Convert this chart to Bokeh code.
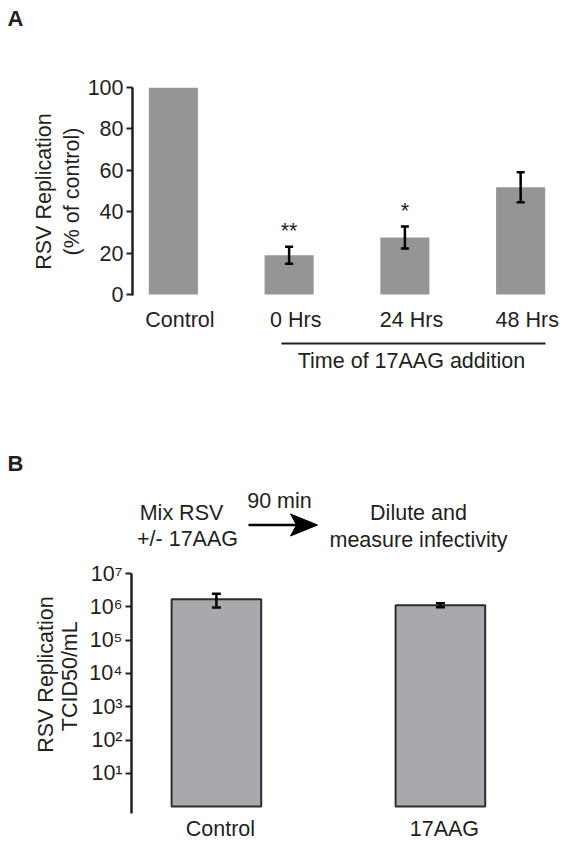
import numpy as np
from bokeh.plotting import figure
from bokeh.models import (ColumnDataSource, Range1d, FixedTicker, LinearAxis,
                          Whisker, TeeHead)
from bokeh.layouts import column, row
from bokeh.embed import file_html
from bokeh.resources import INLINE
from bokeh.core.properties import value

# ---------------- data: panel A ----------------
a_categories = ["Control", "0 Hrs", "24 Hrs", "48 Hrs"]
a_values = [100.0, 18.9, 27.5, 51.8]
a_errors = [0.0, 4.1, 5.3, 7.2]
a_significance = ["", "**", "*", ""]
a_yticks = [0, 20, 40, 60, 80, 100]
a_group_label = "Time of 17AAG addition"
a_group_members = [1, 2, 3]          # indices of the categories under the bracket
a_ylabel = ["RSV Replication", "(% of control)"]

# ---------------- data: panel B ----------------
b_categories = ["Control", "17AAG"]
b_values = [1.7e6, 1.12e6]
b_errors = [0.75e6, 0.15e6]
b_yticks = [1e1, 1e2, 1e3, 1e4, 1e5, 1e6, 1e7]
b_ytick_labels = ["10\u00b9", "10\u00b2", "10\u00b3", "10\u2074", "10\u2075", "10\u2076", "10\u2077"]
b_ylabel = ["RSV Replication", "TCID50/mL"]
b_step_before = ["Mix RSV", "+/- 17AAG"]
b_step_time = "90 min"
b_step_after = ["Dilute and", "measure infectivity"]

FONT = "Liberation Sans"
TXT = "#231f20"
FS = "21.5px"
W = 566
TITLE_W = 86
BASE_SHIFT = 7.5               # text glyphs draw their baseline this far below the anchor

# ---------------- layout geometry (page pixels) ----------------
HA_H = 40                      # header with panel letter A
PA_H = 400
PA_TOP = HA_H
A_LEFT, A_TOP, A_BOTTOM = 132, 87, 295
A_XPX = 115.76
A_X0 = -0.41
A_XR = (A_X0, A_X0 + (W - A_LEFT) / A_XPX)
A_YR = (-0.5, 100.0)

HB_TOP = PA_TOP + PA_H         # header with panel letter B and protocol
HB_H = 120
PB_TOP = HB_TOP + HB_H
PB_H = 845 - PB_TOP
B_LEFT, B_TOP, B_BOTTOM = 131, 573, 813
B_XPX = 224.0
B_X0 = -0.397
B_XR = (B_X0, B_X0 + (W - B_LEFT) / B_XPX)
B_DEC = 33.30
B_YR = (10 ** (7 - (B_BOTTOM - B_TOP) / B_DEC), 1e7)


def blank(width, height):
    p = figure(width=width, height=height, output_backend="svg",
               toolbar_location=None, x_axis_location=None, y_axis_location=None,
               x_range=Range1d(0, width), y_range=Range1d(height, 0),
               min_border=0)
    p.outline_line_color = None
    p.grid.visible = False
    return p


def txt(p, x, y, s, vertical=False, align="center", bold=False, size=FS):
    if vertical:
        x, angle = x - BASE_SHIFT, np.pi / 2
    else:
        y, angle = y - BASE_SHIFT, 0.0
    p.text(x=[x], y=[y], text=[s], angle=angle, text_align=align,
           text_baseline="alphabetic", text_font=value(FONT), text_font_size=size,
           text_color=TXT, text_font_style="bold" if bold else "normal")


def style_common(p):
    p.outline_line_color = None
    p.xgrid.grid_line_color = None
    p.ygrid.grid_line_color = None
    for ax in p.xaxis + p.yaxis:
        ax.major_label_text_font = FONT
        ax.major_label_text_font_size = FS
        ax.major_label_text_color = TXT
        ax.minor_tick_line_color = None
        ax.minor_tick_out = 0
        ax.minor_tick_in = 0
    for ax in p.yaxis:
        ax.axis_line_width = 2.5
        ax.axis_line_color = TXT
        ax.major_tick_line_width = 2
        ax.major_tick_line_color = TXT
        ax.major_tick_out = 6
        ax.major_tick_in = 0
        ax.major_label_standoff = 3
    for ax in p.xaxis:
        ax.axis_line_color = None
        ax.major_tick_line_color = None
        ax.major_tick_out = 0
        ax.major_tick_in = 0


def axis_title_style(ax, standoff):
    ax.axis_label_text_font = FONT
    ax.axis_label_text_font_size = FS
    ax.axis_label_text_color = TXT
    ax.axis_label_text_font_style = "normal"
    ax.axis_label_standoff = standoff


# ================= header A =================
ha = blank(W, HA_H)
txt(ha, 7, 25, "A", align="left", bold=True, size="22px")

# ================= Panel A =================
na = len(a_categories)
a_idx = np.arange(na)
a_shift = -0.057
a_src = ColumnDataSource(dict(
    x=a_idx + a_shift,
    top=a_values,
    upper=[v + e for v, e in zip(a_values, a_errors)],
    sig=a_significance,
))

pa = figure(width=W, height=PA_H, output_backend="svg", toolbar_location=None,
            x_range=Range1d(*A_XR), y_range=Range1d(*A_YR),
            min_border_left=A_LEFT, min_border_right=0,
            min_border_top=A_TOP - PA_TOP,
            min_border_bottom=PA_TOP + PA_H - A_BOTTOM)
pa.vbar(x="x", top="top", bottom=0, width=0.424, source=a_src,
        fill_color="#959595", line_color=None)

err_idx = [i for i in range(na) if a_errors[i] > 0]
a_err_src = ColumnDataSource(dict(
    x=[a_idx[i] + a_shift for i in err_idx],
    upper=[a_values[i] + a_errors[i] for i in err_idx],
    lower=[a_values[i] - a_errors[i] for i in err_idx],
))
pa.add_layout(Whisker(source=a_err_src, base="x", upper="upper", lower="lower",
                      dimension="height", line_width=2.5, line_color="black",
                      level="overlay",
                      upper_head=TeeHead(size=8, line_width=2.5, line_color="black"),
                      lower_head=TeeHead(size=8, line_width=2.5, line_color="black")))

pa.text(x="x", y="upper", text="sig", source=a_src, text_align="center",
        text_baseline="alphabetic", y_offset=-16, text_font=value(FONT),
        text_font_size=FS, text_color=TXT)

pa.xaxis.ticker = FixedTicker(ticks=list(a_idx))
pa.xaxis.major_label_overrides = {int(i): c for i, c in zip(a_idx, a_categories)}
pa.yaxis.ticker = FixedTicker(ticks=a_yticks)
style_common(pa)
pa.xaxis.major_label_standoff = 12
# small spacer below the category labels, before the grouping line
pa.xaxis.axis_label = " "
pa.xaxis.axis_label_text_font_size = "1px"
pa.xaxis.axis_label_standoff = 5

# y-axis title: second line on the main axis, first line on an outer bare axis
pa.yaxis.axis_label = a_ylabel[1]
axis_title_style(pa.yaxis[0], 1)
outer_y = LinearAxis(ticker=FixedTicker(ticks=[]), axis_line_color=None,
                     major_tick_out=0, major_tick_in=0, major_tick_line_color=None,
                     minor_tick_out=0, minor_tick_in=0, minor_tick_line_color=None,
                     major_label_standoff=0, axis_label=a_ylabel[0])
axis_title_style(outer_y, 1)
pa.add_layout(outer_y, "left")

g_mid = a_group_members[len(a_group_members) // 2]
group_axis = LinearAxis(ticker=FixedTicker(ticks=[g_mid]), bounds=(0.88, 3.16),
                        major_label_overrides={g_mid: a_group_label},
                        axis_line_width=2, axis_line_color=TXT,
                        major_tick_out=0, major_tick_in=0,
                        major_tick_line_color=None,
                        minor_tick_out=0, minor_tick_in=0, minor_tick_line_color=None,
                        major_label_standoff=5, major_label_text_font=FONT,
                        major_label_text_font_size=FS, major_label_text_color=TXT)
pa.add_layout(group_axis, "below")

# ================= header B =================
hb = blank(W, HB_H)
txt(hb, 7, 470 - HB_TOP, "B", align="left", bold=True, size="22px")
txt(hb, 181, 520 - HB_TOP, b_step_before[0])
txt(hb, 187, 546 - HB_TOP, b_step_before[1])
txt(hb, 279, 508 - HB_TOP, b_step_time)
txt(hb, 418, 520 - HB_TOP, b_step_after[0])
txt(hb, 418, 547 - HB_TOP, b_step_after[1])
ay = 524.5 - HB_TOP
tip, head_len, head_half, notch = 317.0, 27.0, 11.0, 6.0
hb.segment(x0=[248], y0=[ay], x1=[tip - head_len + notch + 1], y1=[ay],
           line_width=2.5, line_color="black")
hb.patch(x=[tip, tip - head_len, tip - head_len + notch, tip - head_len],
         y=[ay, ay - head_half, ay, ay + head_half],
         fill_color="black", line_color="black", line_width=1)

# ================= Panel B =================
nb = len(b_categories)
b_idx = np.arange(nb)
b_shift = -0.018
b_src = ColumnDataSource(dict(
    x=b_idx + b_shift,
    top=b_values,
    upper=[v + e for v, e in zip(b_values, b_errors)],
    lower=[v - e for v, e in zip(b_values, b_errors)],
))

pb = figure(width=W - TITLE_W, height=PB_H, output_backend="svg", toolbar_location=None,
            y_axis_type="log",
            x_range=Range1d(*B_XR), y_range=Range1d(*B_YR),
            min_border_left=B_LEFT - TITLE_W, min_border_right=0,
            min_border_top=B_TOP - PB_TOP,
            min_border_bottom=PB_TOP + PB_H - B_BOTTOM)
pb.vbar(x="x", top="top", bottom=1, width=0.40, source=b_src,
        fill_color="#a7a9ac", line_color="#2d2d2d", line_width=2)
pb.add_layout(Whisker(source=b_src, base="x", upper="upper", lower="lower",
                      dimension="height", line_width=2.5, line_color="black",
                      level="overlay",
                      upper_head=TeeHead(size=9, line_width=2.5, line_color="black"),
                      lower_head=TeeHead(size=9, line_width=2.5, line_color="black")))

pb.xaxis.ticker = FixedTicker(ticks=list(b_idx))
pb.xaxis.major_label_overrides = {int(i): c for i, c in zip(b_idx, b_categories)}
pb.yaxis.ticker = FixedTicker(ticks=b_yticks)
pb.yaxis.major_label_overrides = {float(t): s for t, s in zip(b_yticks, b_ytick_labels)}
style_common(pb)
pb.xaxis.major_label_standoff = 3

tb = blank(TITLE_W, PB_H)
txt(tb, 53.0, 680 - PB_TOP, b_ylabel[0], vertical=True)
txt(tb, 76.7, 682 - PB_TOP, b_ylabel[1], vertical=True)

layout = column(ha, row(pa), hb, row(tb, pb))
open("out.html", "w").write(file_html(layout, INLINE))
